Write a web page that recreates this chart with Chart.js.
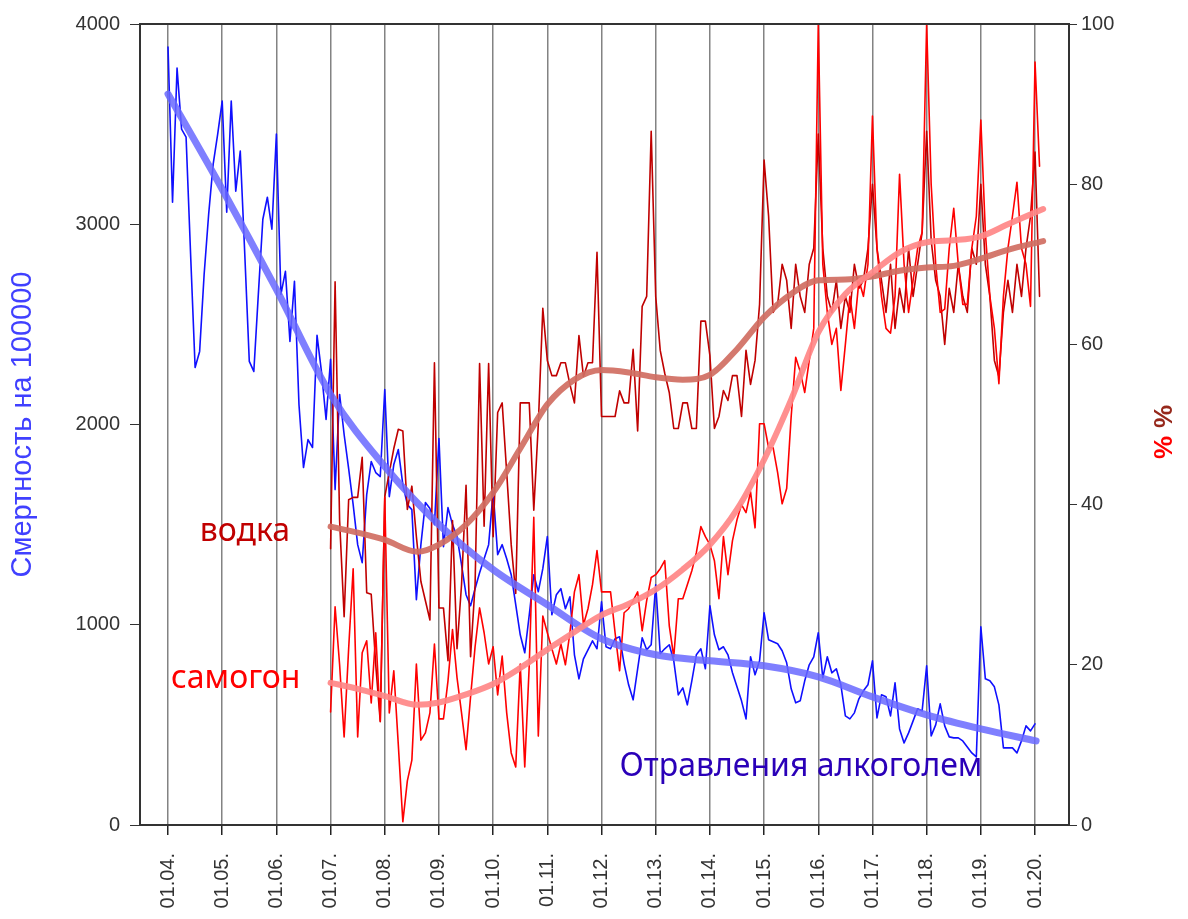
<!DOCTYPE html>
<html lang="ru">
<head>
<meta charset="utf-8">
<title>Отравления алкоголем</title>
<script src="https://cdn.jsdelivr.net/npm/chart.js@4.4.1/dist/chart.umd.min.js"></script>
<style>
    html, body { margin: 0; padding: 0; background: #fff; }
    canvas { display: block; }
</style>
</head>
<body>
<canvas id="chart" width="1188" height="919"></canvas>
<script>
// Years that get a gridline and a "01.YY." label
const years = [2004, 2005, 2006, 2007, 2008, 2009, 2010, 2011, 2012, 2013, 2014, 2015, 2016, 2017, 2018, 2019, 2020];

// Alcohol poisoning, monthly from Jan 2004 (left axis)
const poisoningStart = 2004;
const poisoning = [
    3885, 3110, 3780, 3475, 3435, 2850, 2285, 2365, 2750, 3050, 3300, 3450,
    3615, 3060, 3615, 3165, 3365, 2850, 2315, 2265, 2650, 3025, 3135, 2975,
    3450, 2650, 2765, 2415, 2715, 2100, 1785, 1925, 1885, 2445, 2260, 2025,
    2325, 1675, 2150, 1950, 1780, 1600, 1400, 1310, 1650, 1815, 1760, 1740,
    2175, 1640, 1800, 1875, 1700, 1600, 1575, 1125, 1400, 1610, 1580, 1500,
    1930, 1390, 1585, 1500, 1440, 1300, 1150, 1095, 1180, 1260, 1330, 1400,
    1665, 1350, 1400, 1330, 1250, 1100, 950, 860, 1050, 1250, 1165, 1280,
    1440, 1050, 1150, 1180, 1080, 1140, 850, 730, 830, 875, 920, 880,
    1115, 890, 880, 930, 940, 805, 700, 625, 780, 935, 875, 900,
    1200, 855, 880, 900, 820, 650, 685, 600, 720, 850, 880, 780,
    1095, 950, 875, 890, 850, 760, 690, 620, 530, 840, 750, 820,
    1060, 925, 915, 905, 870, 810, 680, 610, 620, 720, 800, 840,
    960, 735, 840, 760, 780, 700, 545, 530, 560, 630, 670, 700,
    820, 535, 650, 640, 545, 710, 480, 410, 460, 520, 580, 570,
    795, 445, 500, 605, 495, 440, 435, 435, 420, 390, 360, 340,
    990, 730, 720, 690, 600, 385, 385, 385, 360, 420, 495, 470,
    505
];

// Shares in %, monthly from Jan 2007 (right axis)
const shareStart = 2007;
const vodka = [
    34.5, 67.8, 38, 26, 40.6, 40.9, 40.9, 45.9, 29, 28.8, 20, 12.9,
    41, 44, 47, 49.4, 49.2, 39.4, 42.3, 36, 30.4, 28, 25.6, 57.7,
    27.1, 27.1, 20.5, 38, 22, 30, 42.4, 21, 30, 57.6, 37.3, 57.6,
    36, 51.5, 52.7, 44, 35, 28.9, 52.7, 52.7, 52.7, 39.3, 50, 64.5,
    58, 56.1, 56.1, 57.7, 57.7, 55, 52.7, 61.1, 56, 57.7, 57.7, 71.5,
    51, 51, 51, 51, 54.2, 52.7, 52.7, 59.4, 49.2, 64.75, 66, 86.6,
    66, 59.25, 56.4, 54, 49.5, 49.5, 52.7, 52.7, 49.5, 49.5, 62.9, 62.9,
    58.6, 49.5, 51, 54.25, 53, 56.1, 56.1, 51, 59.25, 55, 58, 65,
    83, 76, 64, 65, 70, 68, 62, 70, 66, 64, 70, 72,
    86.25, 72, 66, 64, 68, 62, 66, 64, 70, 67, 68, 72,
    80, 72, 68, 64, 70, 62, 67, 64, 72, 66, 70, 74,
    86.6, 73, 68, 66, 60, 67, 64, 70, 66, 64, 72, 70,
    80, 70, 66, 58, 56, 64, 68, 64, 70, 66, 72, 76,
    84, 66
];
const samogon = [
    14.1, 27.25, 20, 11, 22, 32, 11, 21.5, 23, 15.25, 24, 13,
    40.9, 14, 19.25, 10, 0.4, 5.5, 8.1, 20.1, 10.6, 11.5, 14, 22.6,
    13.25, 13.25, 18, 24.4, 18.4, 14, 9.4, 16, 22.25, 27.1, 24, 20.1,
    22.25, 16.25, 21.1, 14, 9, 7.25, 20.1, 7.25, 20, 38.4, 11.1, 26.1,
    24, 22, 20.1, 22.6, 20, 24, 29.1, 31.25, 25, 27, 30, 34.25,
    29.1, 29.1, 29.1, 24, 19.25, 26.5, 27, 28, 29.1, 24.25, 28, 30.9,
    31.25, 32, 33, 24.9, 21, 28.25, 28.25, 30, 31.75, 34, 37.25, 36,
    35, 33, 28.25, 36, 31.25, 35.5, 38.1, 40, 39, 41.6, 37.1, 50.1,
    50.1, 47.1, 47.1, 44, 40.1, 42, 51, 58.4, 56.6, 54, 58, 62,
    100, 70, 64, 60, 62, 54.25, 60, 66, 62, 68, 66, 70,
    88.5, 72, 66, 62, 61.4, 66, 81.25, 70, 64, 68, 72, 74,
    100, 80, 70, 64, 64.4, 72, 77, 70, 65, 65, 72, 76,
    88, 74, 66, 62, 55.1, 66, 72, 76, 80.25, 72, 70, 64.75,
    95.25, 82.25
];

// Smoothed trends
const poisoningTrendYears = [2004, 2005, 2006, 2007, 2008, 2009, 2010, 2011, 2012, 2013, 2014, 2015, 2016, 2017, 2018, 2019, 2020.02];
const poisoningTrend = [3650, 3175, 2675, 2150, 1790, 1500, 1275, 1100, 930, 850, 820, 795, 740, 640, 550, 480, 420];

const shareTrendYears = [2007, 2007.5, 2008, 2008.6, 2009, 2009.5, 2010, 2010.5, 2011, 2011.5, 2012, 2012.5, 2013, 2013.5,
    2014, 2014.5, 2015, 2015.5, 2016, 2016.5, 2017, 2017.5, 2018, 2018.5, 2019, 2019.5, 2020.15];
const vodkaTrend = [37.25, 36.5, 35.6, 34.1, 35, 37.5, 41.5, 47, 52.5, 55.6, 56.8, 56.5, 55.9, 55.6,
    56.2, 59.4, 63.4, 66.3, 68, 68.1, 68.5, 69.2, 69.6, 69.8, 70.7, 71.8, 72.9];
const samogonTrend = [17.75, 17, 16.1, 15, 15.3, 16.3, 17.6, 19.6, 21.9, 24.1, 26.2, 27.6, 29.4, 31.9,
    35, 39.4, 45.6, 53.1, 61.5, 66.3, 69, 71.5, 72.75, 73, 73.5, 75, 76.9];

/**
 * Turns a monthly series into {x, y} points with x in decimal years
 */
function monthly(start, values) {
    return values.map((v, i) => ({ x: start + i / 12, y: v }));
}

function pairs(xs, ys) {
    return xs.map((x, i) => ({ x: x, y: ys[i] }));
}

// Text placed inside the plot, anchored to axis values
const annotations = [
    { text: 'водка', x: 2005.42, y: 36.6, axis: 'y1', color: '#c00000' },
    { text: 'самогон', x: 2005.25, y: 18.3, axis: 'y1', color: '#ff0000' },
    { text: 'Отравления алкоголем', x: 2015.68, y: 290, axis: 'y', color: '#2a00b8' }
];

const annotationPlugin = {
    id: 'annotations',
    afterDatasetsDraw(chart) {
        const ctx = chart.ctx;
        ctx.save();
        ctx.font = '32px "Noto Sans", "Open Sans", sans-serif';
        ctx.textAlign = 'center';
        ctx.textBaseline = 'middle';
        annotations.forEach(a => {
            ctx.fillStyle = a.color;
            ctx.fillText(a.text, chart.scales.x.getPixelForValue(a.x), chart.scales[a.axis].getPixelForValue(a.y));
        });
        ctx.restore();
    }
};

// Top border of the plot plus the two-coloured "% %" title on the right
const framePlugin = {
    id: 'frame',
    afterDraw(chart) {
        const { ctx, chartArea } = chart;
        ctx.save();
        ctx.strokeStyle = '#333';
        ctx.lineWidth = 2;
        ctx.beginPath();
        ctx.moveTo(chartArea.left, chartArea.top);
        ctx.lineTo(chartArea.right, chartArea.top);
        ctx.stroke();

        ctx.translate(1165, 432);
        ctx.rotate(-Math.PI / 2);
        ctx.font = 'bold 26px "Liberation Sans", Arial, sans-serif';
        ctx.textBaseline = 'middle';
        ctx.textAlign = 'right';
        ctx.fillStyle = '#ff0000';
        ctx.fillText('%', -4, 0);
        ctx.textAlign = 'left';
        ctx.fillStyle = '#96281b';
        ctx.fillText('%', 4, 0);
        ctx.restore();
    }
};

const tickFont = { family: '"Liberation Sans", Arial, sans-serif', size: 20 };

new Chart(document.getElementById('chart'), {
    type: 'line',
    data: {
        datasets: [
            {
                data: monthly(poisoningStart, poisoning),
                yAxisID: 'y',
                borderColor: '#1010ff',
                borderWidth: 1.6,
                order: 5
            },
            {
                data: monthly(shareStart, vodka),
                yAxisID: 'y1',
                borderColor: '#c00000',
                borderWidth: 1.6,
                order: 4
            },
            {
                data: monthly(shareStart, samogon),
                yAxisID: 'y1',
                borderColor: '#ff0000',
                borderWidth: 1.6,
                order: 3
            },
            {
                data: pairs(poisoningTrendYears, poisoningTrend),
                yAxisID: 'y',
                borderColor: 'rgba(105, 105, 255, 0.85)',
                borderWidth: 7,
                cubicInterpolationMode: 'monotone',
                order: 2
            },
            {
                data: pairs(shareTrendYears, vodkaTrend),
                yAxisID: 'y1',
                borderColor: 'rgba(208, 110, 98, 0.92)',
                borderWidth: 6,
                cubicInterpolationMode: 'monotone',
                order: 1
            },
            {
                data: pairs(shareTrendYears, samogonTrend),
                yAxisID: 'y1',
                borderColor: 'rgba(255, 135, 135, 0.92)',
                borderWidth: 6,
                cubicInterpolationMode: 'monotone',
                order: 0
            }
        ]
    },
    options: {
        responsive: false,
        animation: false,
        layout: { padding: { top: 24 } },
        elements: {
            point: { radius: 0 },
            line: { tension: 0, borderJoinStyle: 'round', borderCapStyle: 'round' }
        },
        plugins: {
            legend: { display: false },
            tooltip: { enabled: false }
        },
        scales: {
            x: {
                type: 'linear',
                min: 2003.483,
                max: 2020.627,
                afterBuildTicks: scale => { scale.ticks = years.map(v => ({ value: v })); },
                afterFit: scale => { scale.height = 94; },
                ticks: {
                    minRotation: 90,
                    maxRotation: 90,
                    padding: 18,
                    color: '#333',
                    font: tickFont,
                    callback: v => '01.' + String(v).slice(2) + '.'
                },
                grid: {
                    color: 'rgba(90, 90, 90, 0.75)',
                    lineWidth: 1.5,
                    tickColor: '#222',
                    tickLength: 10
                },
                border: { color: '#333', width: 2 }
            },
            y: {
                position: 'left',
                min: 0,
                max: 4000,
                afterFit: scale => { scale.width = 140; },
                ticks: { stepSize: 1000, padding: 10, color: '#333', font: tickFont, callback: v => String(v) },
                grid: { drawOnChartArea: false, tickColor: '#333', tickLength: 10 },
                border: { color: '#333', width: 2 },
                title: {
                    display: true,
                    text: 'Смертность на 100000',
                    color: '#4040ff',
                    font: { family: '"Liberation Sans", Arial, sans-serif', size: 29 },
                    padding: { top: 6, bottom: 0 }
                }
            },
            y1: {
                position: 'right',
                min: 0,
                max: 100,
                afterFit: scale => { scale.width = 119; },
                ticks: { stepSize: 20, padding: 4, color: '#333', font: tickFont, callback: v => String(v) },
                grid: { drawOnChartArea: false, tickColor: '#333', tickLength: 8 },
                border: { color: '#333', width: 2 }
            }
        }
    },
    plugins: [annotationPlugin, framePlugin]
});
</script>
</body>
</html>
